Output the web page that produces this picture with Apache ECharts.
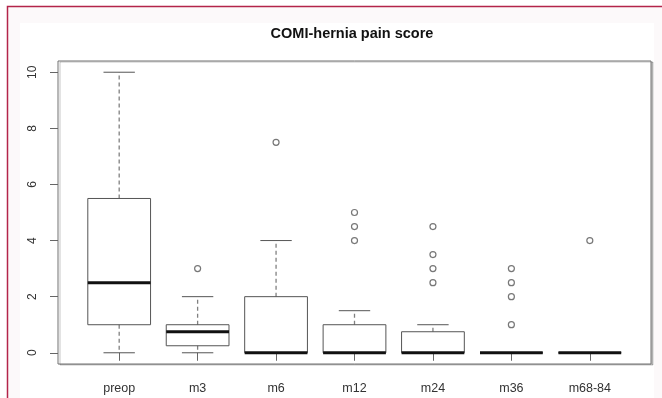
<!DOCTYPE html>
<html>
<head>
<meta charset="utf-8">
<script src="https://cdn.jsdelivr.net/npm/echarts@6/dist/echarts.min.js"></script>
<style>
  html, body { margin: 0; padding: 0; background: #ffffff; }
  #chart { width: 662px; height: 398px; }
</style>
</head>
<body>
<div id="chart"></div>
<script>
// Follow-up time points
const categories = ['preop', 'm3', 'm6', 'm12', 'm24', 'm36', 'm68-84'];

// Five-number summaries per time point
const whiskerLow  = [0, 0, 0, 0, 0, 0, 0];
const quartile1   = [1, 0.25, 0, 0, 0, 0, 0];
const medians     = [2.5, 0.75, 0, 0, 0, 0, 0];
const quartile3   = [5.5, 1, 2, 1, 0.75, 0, 0];
const whiskerHigh = [10, 2, 4, 1.5, 1, 0, 0];

// Points beyond the whiskers
const outliers = [[], [3], [7.5], [4, 4.5, 5], [2.5, 3, 3.5, 4.5], [1, 2, 2.5, 3], [4]];

// Axis ticks
const yTicks = [0, 2, 4, 6, 8, 10];
const xTicks = categories.map((_, i) => i + 1);

const boxRows = categories.map((_, i) => [
  i + 1, whiskerLow[i], quartile1[i], medians[i], quartile3[i], whiskerHigh[i]
]);
const outlierPoints = [];
outliers.forEach((vals, i) => vals.forEach(v => outlierPoints.push([i + 1, v])));

const FONT = '"Liberation Sans", Arial, Helvetica, sans-serif';

function renderBox(params, api) {
  const x = api.value(0);
  const lo = api.value(1), q1 = api.value(2), med = api.value(3), q3 = api.value(4), hi = api.value(5);
  const cx = api.coord([x, 0])[0];
  const yLo = api.coord([x, lo])[1];
  const yQ1 = api.coord([x, q1])[1];
  const yMed = api.coord([x, med])[1];
  const yQ3 = api.coord([x, q3])[1];
  const yHi = api.coord([x, hi])[1];
  const bw = api.size([0.8, 0])[0];
  const cw = api.size([0.4, 0])[0];
  const dash = { stroke: '#808080', lineWidth: 1.3, lineDash: [4, 3] };
  const cap = { stroke: '#555', lineWidth: 1 };
  const children = [];
  if (hi > q3) {
    children.push({ type: 'line', shape: { x1: cx, y1: yQ3, x2: cx, y2: yHi }, style: dash });
    children.push({ type: 'line', shape: { x1: cx - cw / 2, y1: yHi, x2: cx + cw / 2, y2: yHi }, style: cap });
  }
  if (lo < q1) {
    children.push({ type: 'line', shape: { x1: cx, y1: yQ1, x2: cx, y2: yLo }, style: dash });
    children.push({ type: 'line', shape: { x1: cx - cw / 2, y1: yLo, x2: cx + cw / 2, y2: yLo }, style: cap });
  }
  children.push({
    type: 'rect',
    shape: { x: cx - bw / 2, y: yQ3, width: bw, height: yQ1 - yQ3 },
    style: { stroke: '#555', lineWidth: 1, fill: null }
  });
  children.push({
    type: 'line',
    shape: { x1: cx - bw / 2, y1: yMed, x2: cx + bw / 2, y2: yMed },
    style: { stroke: '#111', lineWidth: 3 }
  });
  return { type: 'group', children: children };
}

const chart = echarts.init(document.getElementById('chart'), null, { renderer: 'canvas' });

chart.setOption({
  animation: false,
  backgroundColor: '#ffffff',
  graphic: {
    elements: [
      {
        type: 'rect', z: -100,
        shape: { x: 7.5, y: 6.5, width: 660, height: 400 },
        style: { fill: '#fcf9fa', stroke: '#b3244a', lineWidth: 1.5 }
      },
      {
        type: 'rect', z: -99,
        shape: { x: 20, y: 23, width: 634, height: 380 },
        style: { fill: '#ffffff' }
      }
    ]
  },
  title: {
    text: 'COMI-hernia pain score',
    left: 347,
    top: 21,
    textAlign: 'center',
    textStyle: { fontFamily: FONT, fontSize: 14.5, fontWeight: 'bold', color: '#111' }
  },
  grid: {
    left: 58, right: 11, top: 61, bottom: 34,
    containLabel: false,
    show: true,
    backgroundColor: '#ffffff',
    borderColor: '#707070',
    borderWidth: 1,
    shadowColor: 'rgba(0,0,0,0.22)',
    shadowOffsetX: 2,
    shadowOffsetY: 1,
    shadowBlur: 0
  },
  xAxis: {
    type: 'value',
    min: 0.22, max: 7.78,
    axisLine: { show: false },
    splitLine: { show: false },
    axisTick: { show: true, customValues: xTicks, length: 8, lineStyle: { color: '#666' } },
    axisLabel: {
      customValues: xTicks,
      margin: 18,
      formatter: v => categories[Math.round(v) - 1],
      fontFamily: FONT, fontSize: 12.5, color: '#333'
    }
  },
  yAxis: {
    type: 'value',
    min: -0.4, max: 10.4,
    axisLine: { show: false },
    splitLine: { show: false },
    axisTick: { show: true, customValues: yTicks, length: 8, lineStyle: { color: '#666' } },
    axisLabel: {
      customValues: yTicks,
      rotate: 90,
      margin: 19,
      fontFamily: FONT, fontSize: 12, color: '#333'
    }
  },
  series: [
    {
      type: 'custom',
      renderItem: renderBox,
      data: boxRows,
      encode: { x: 0, y: [1, 2, 3, 4, 5] },
      z: 3
    },
    {
      type: 'scatter',
      data: outlierPoints,
      symbol: 'circle',
      symbolSize: 6,
      itemStyle: { color: 'rgba(0,0,0,0)', borderColor: '#555', borderWidth: 1.2 },
      z: 4
    }
  ]
});
</script>
</body>
</html>
